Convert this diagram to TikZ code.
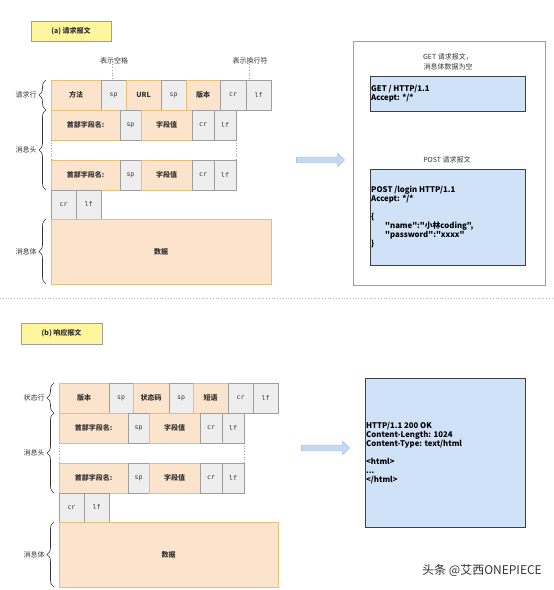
\documentclass[tikz,border=0pt]{standalone}
\usepackage{fontspec}
\setmainfont{Noto Sans CJK SC}
\newfontfamily\cjk{Noto Sans CJK SC}
\newfontfamily\monof{DejaVu Sans Mono}
\usetikzlibrary{decorations.pathreplacing,shapes.arrows}
\definecolor{peach}{HTML}{FCE4CC}
\definecolor{gold}{HTML}{E6C07B}
\definecolor{grayfill}{HTML}{EEEEEE}
\definecolor{grayline}{HTML}{9E9E9E}
\definecolor{titley}{HTML}{FFF59D}
\definecolor{bluefill}{HTML}{CFE2F7}
\definecolor{blueline}{HTML}{404040}
\definecolor{txt}{HTML}{333333}
\definecolor{arrfill}{HTML}{C4DAF2}
\definecolor{arrline}{HTML}{A6C4E8}
\tikzset{
  cellbase/.style={inner sep=0, outer sep=0, line width=0.8pt, text=txt},
  ob/.style={cellbase, draw=gold, fill=peach, font=\cjk\bfseries\fontsize{7}{8}\selectfont},
  gb/.style={cellbase, draw=grayline, fill=grayfill, font=\monof\fontsize{6.5}{8}\selectfont},
  titlebox/.style={cellbase, draw=grayline, fill=titley, font=\cjk\bfseries\fontsize{7}{8}\selectfont},
  codebox/.style={cellbase, draw=blueline, fill=bluefill},
  panel/.style={cellbase, draw=grayline, fill=white},
  lbl/.style={inner sep=0, text=txt, font=\cjk\fontsize{7}{8}\selectfont},
  code/.style={inner sep=0, anchor=north west, align=left, text=black, font=\cjk\bfseries\fontsize{7.8}{9}\selectfont},
  brc/.style={decorate, decoration={brace, amplitude=7pt}, draw=txt, line width=0.6pt},
  dotl/.style={draw=grayline, dotted, line width=0.7pt},
  fatarrow/.style={single arrow, draw=arrline, fill=arrfill, line width=0.6pt, minimum height=48pt, minimum width=13pt, single arrow head extend=4pt, single arrow head indent=0pt, inner sep=2.6pt},
}
\newcommand\cellbox[7]{\node[#6, minimum width={(#3-#2)*1pt}, minimum height={(#5-#4)*1pt}] (#1) at ({(#2+#3)/2},{(#4+#5)/2}) {#7};}
\begin{document}
\begin{tikzpicture}[x=1pt,y=-1pt]
\useasboundingbox (0,0) rectangle (554,590);
% ---------- (a) request ----------
\cellbox{ta}{31}{111}{21}{41}{titlebox}{(a) 请求报文}
\node[lbl] (lsp) at (114,61) {表示空格};
\node[lbl] (llf) at (250,61) {表示换行符};
% request line
\cellbox{a1}{51}{101}{80}{110}{ob}{方法}
\cellbox{a2}{101}{126}{80}{110}{gb}{sp}
\cellbox{a3}{126}{161}{80}{110}{ob}{URL}
\cellbox{a4}{161}{186}{80}{110}{gb}{sp}
\cellbox{a5}{186}{220}{80}{110}{ob}{版本}
\cellbox{a6}{220}{246}{80}{110}{gb}{cr}
\cellbox{a7}{246}{271}{80}{110}{gb}{lf}
\coordinate (lspend) at (112,80);
\coordinate (llfend) at (249,80);
\draw[dotl] (lsp.south -| lspend) -- (lspend);
\draw[dotl] (llf.south -| llfend) -- (llfend);
% header row 1
\cellbox{b1}{51}{120}{110}{140}{ob}{首部字段名:}
\cellbox{b2}{120}{141}{110}{140}{gb}{sp}
\cellbox{b3}{141}{192}{110}{140}{ob}{字段值}
\cellbox{b4}{192}{214}{110}{140}{gb}{cr}
\cellbox{b5}{214}{236}{110}{140}{gb}{lf}
% header row 2
\cellbox{c1}{51}{120}{160}{190}{ob}{首部字段名:}
\cellbox{c2}{120}{141}{160}{190}{gb}{sp}
\cellbox{c3}{141}{192}{160}{190}{ob}{字段值}
\cellbox{c4}{192}{214}{160}{190}{gb}{cr}
\cellbox{c5}{214}{236}{160}{190}{gb}{lf}
\draw[dotl] (b1.south west) -- (c1.north west);
\draw[dotl] (b5.south east) -- (c5.north east);
% cr lf
\cellbox{d1}{51}{76}{190}{219}{gb}{cr}
\cellbox{d2}{76}{101}{190}{219}{gb}{lf}
% data
\cellbox{e1}{51}{271}{219}{284}{ob}{数据}
% braces
\draw[brc] (46,110) -- (46,80) node[midway, left=9pt, lbl] (bra1) {请求行};
\draw[brc] (46,190) -- (46,110) node[midway, left=9pt, lbl] (bra2) {消息头};
\draw[brc] (46,284) -- (46,219) node[midway, left=9pt, lbl] (bra3) {消息体};
% arrow
\node[fatarrow] (arA) at (319,160) {};
% right panel
\cellbox{pA}{353}{545}{41}{285}{panel}{}
\node[lbl, align=center, font=\cjk\fontsize{7}{10}\selectfont] (getl) at (448,62) {GET 请求报文，\\消息体数据为空};
\cellbox{getb}{370}{525}{76}{111}{codebox}{}
\node[code] (gett) at (371,84.5) {GET / HTTP/1.1\\Accept: */*};
\node[lbl] (postl) at (447,160) {POST 请求报文};
\cellbox{postb}{370}{525}{169}{265}{codebox}{}
\node[code] (postt) at (371,185.5) {POST /login HTTP/1.1\\Accept: */*\\[9pt]\{\\\hspace*{14pt}"name":"小林coding",\\\hspace*{14pt}"password":"xxxx"\\\}};
% separator
\coordinate (sepL) at (0,298);
\coordinate (sepR) at (554,298);
\draw[draw=grayline!80, dotted, line width=0.8pt] (sepL) -- (sepR);
% ---------- (b) response ----------
\cellbox{tb}{21}{102}{323}{344}{titlebox}{(b) 响应报文}
\cellbox{f1}{59}{109}{383}{413}{ob}{版本}
\cellbox{f2}{109}{133}{383}{413}{gb}{sp}
\cellbox{f3}{133}{169}{383}{413}{ob}{状态码}
\cellbox{f4}{169}{193}{383}{413}{gb}{sp}
\cellbox{f5}{193}{228}{383}{413}{ob}{短语}
\cellbox{f6}{228}{253}{383}{413}{gb}{cr}
\cellbox{f7}{253}{278}{383}{413}{gb}{lf}
\cellbox{g1}{59}{128}{413}{443}{ob}{首部字段名:}
\cellbox{g2}{128}{149}{413}{443}{gb}{sp}
\cellbox{g3}{149}{200}{413}{443}{ob}{字段值}
\cellbox{g4}{200}{222}{413}{443}{gb}{cr}
\cellbox{g5}{222}{244}{413}{443}{gb}{lf}
\cellbox{h1}{59}{128}{463}{493}{ob}{首部字段名:}
\cellbox{h2}{128}{149}{463}{493}{gb}{sp}
\cellbox{h3}{149}{200}{463}{493}{ob}{字段值}
\cellbox{h4}{200}{222}{463}{493}{gb}{cr}
\cellbox{h5}{222}{244}{463}{493}{gb}{lf}
\draw[dotl] (g1.south west) -- (h1.north west);
\draw[dotl] (g5.south east) -- (h5.north east);
\cellbox{i1}{59}{84}{493}{522}{gb}{cr}
\cellbox{i2}{84}{109}{493}{522}{gb}{lf}
\cellbox{j1}{59}{278}{522}{587}{ob}{数据}
\draw[brc] (54,413) -- (54,383) node[midway, left=9pt, lbl] (brb1) {状态行};
\draw[brc] (54,493) -- (54,413) node[midway, left=9pt, lbl] (brb2) {消息头};
\draw[brc] (54,587) -- (54,522) node[midway, left=9pt, lbl] (brb3) {消息体};
\node[fatarrow] (arB) at (324,448) {};
\cellbox{respb}{365}{525}{378}{527}{codebox}{}
\node[code] (respt) at (366,421.5) {HTTP/1.1 200 OK\\Content-Length: 1024\\Content-Type: text/html\\[9pt]<html>\\...\\</html>};
\node[inner sep=0, anchor=east, text=txt, font=\cjk\fontsize{12}{14}\selectfont] (wm) at (542,570) {头条 @艾西ONEPIECE};
\end{tikzpicture}
\end{document}
